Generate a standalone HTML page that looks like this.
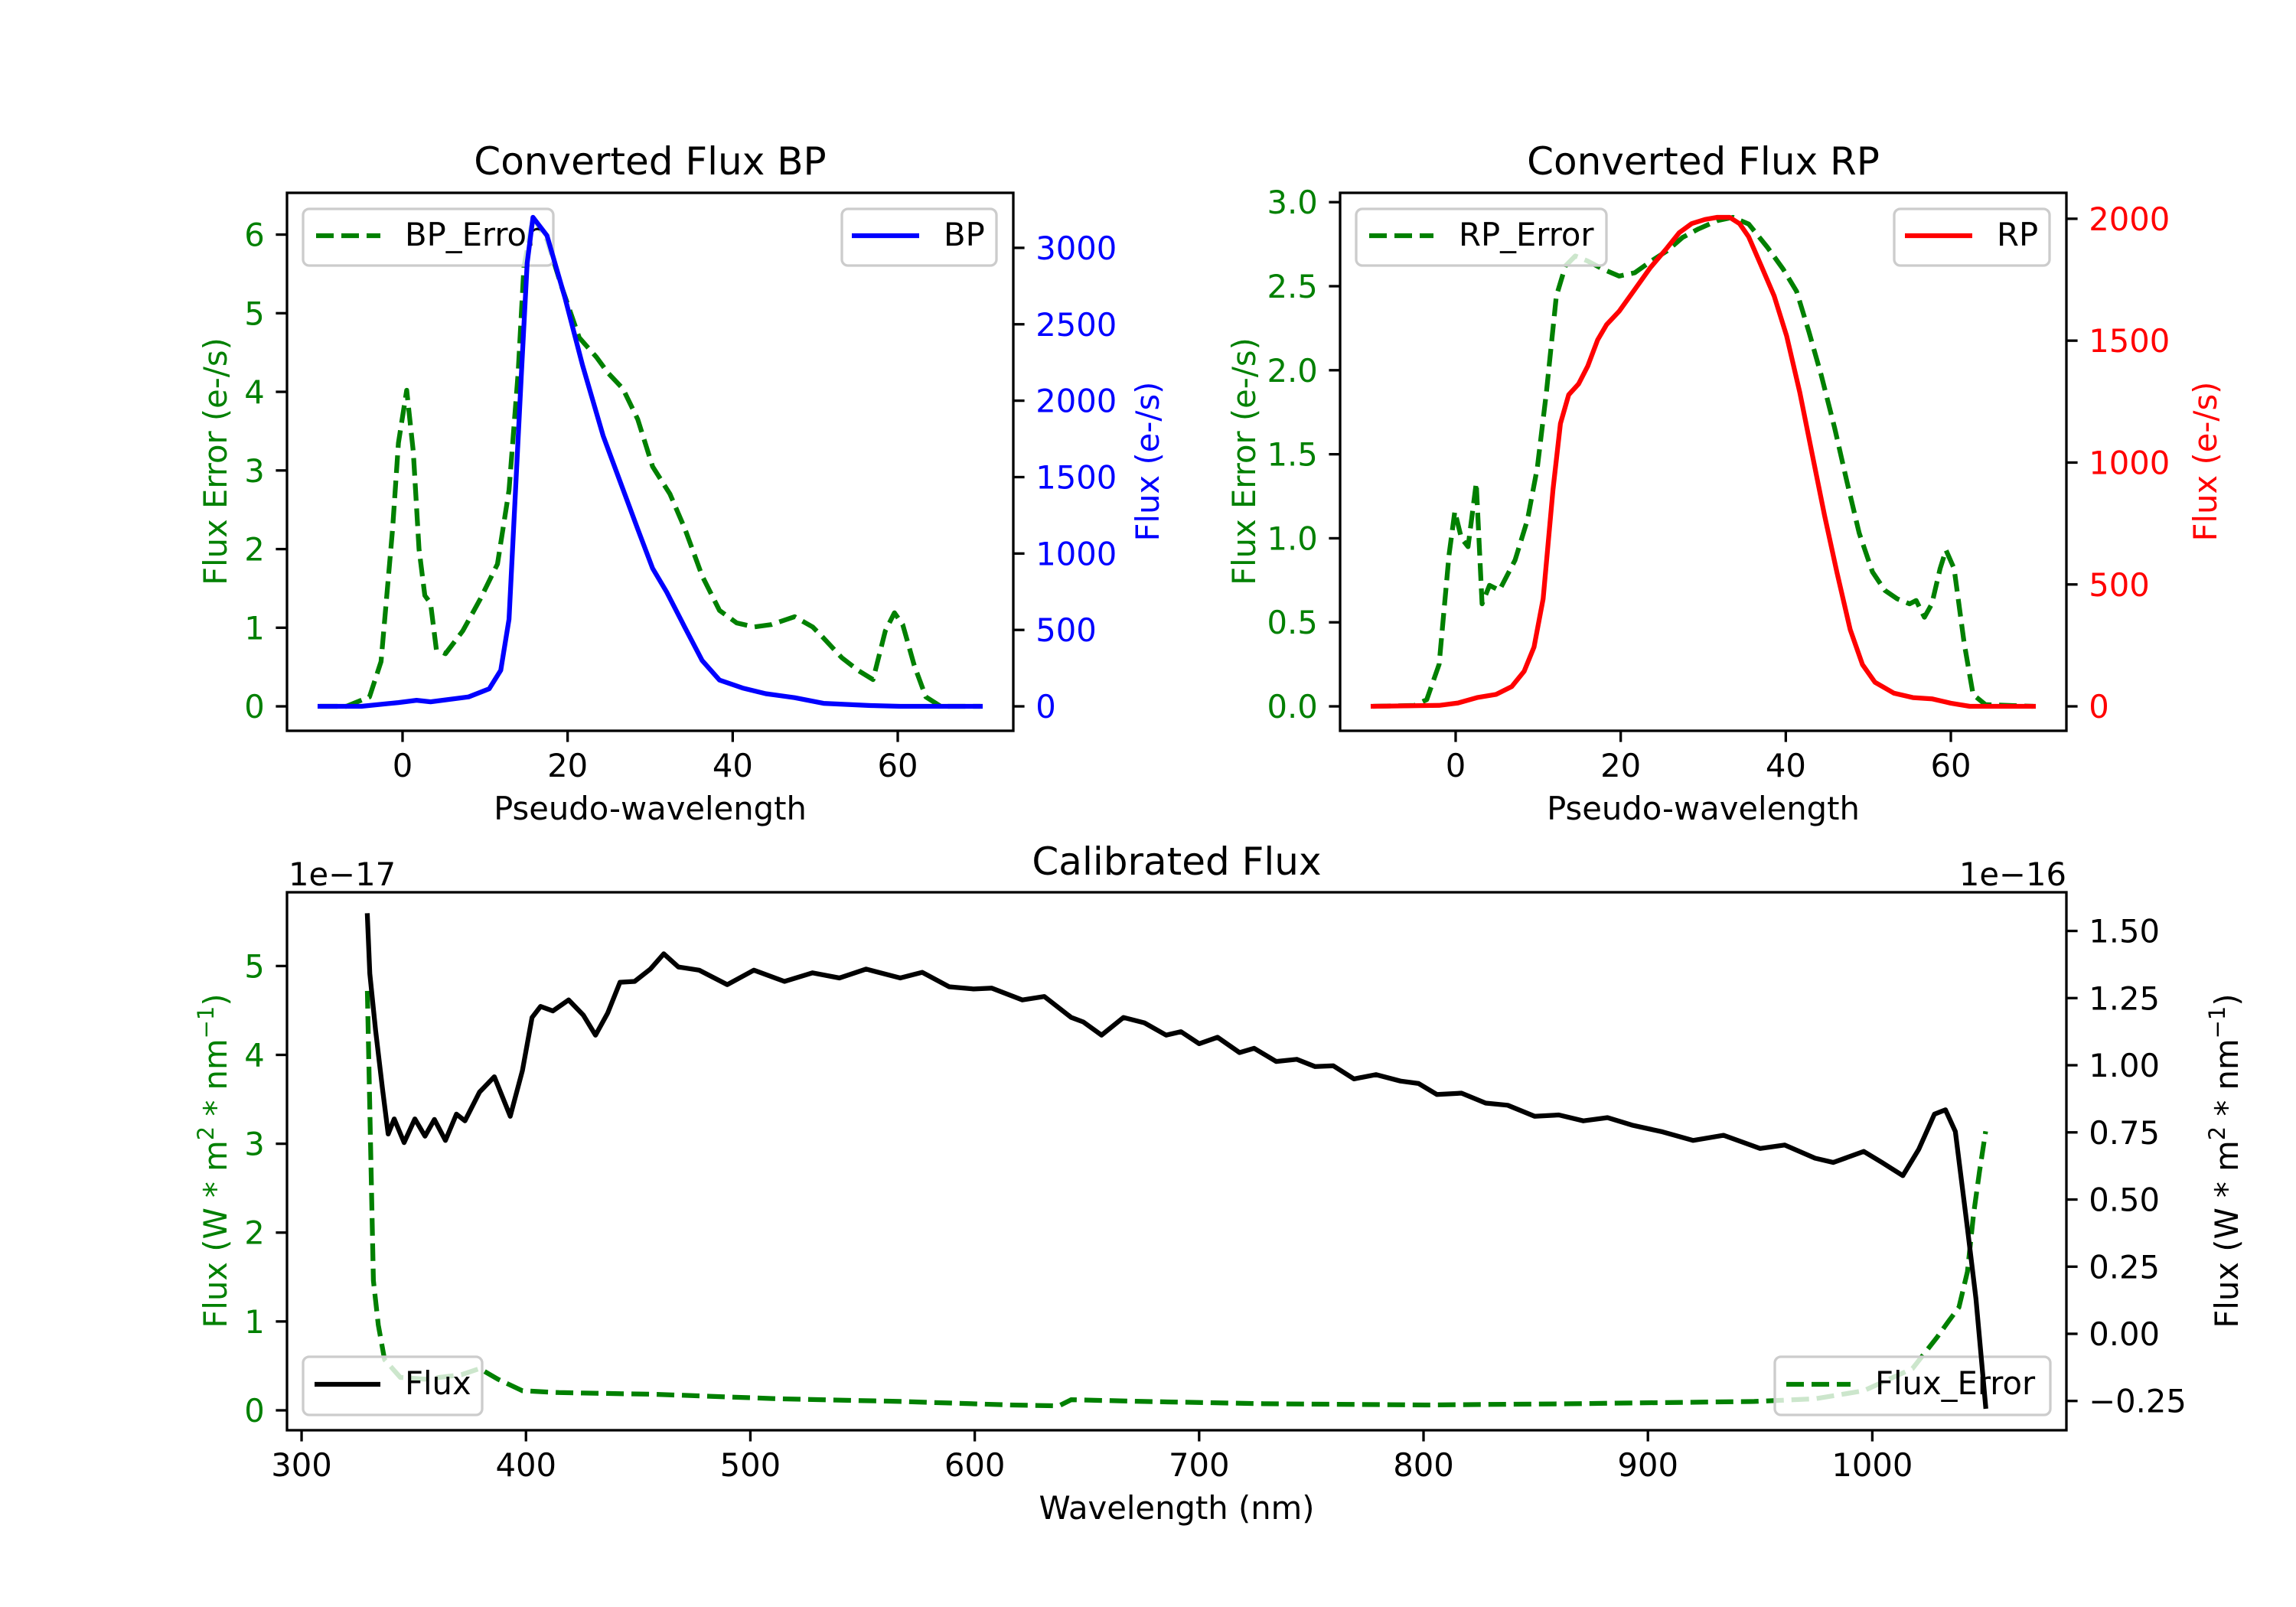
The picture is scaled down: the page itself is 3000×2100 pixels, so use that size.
<!DOCTYPE html>
<html><head><meta charset="utf-8"><style>
html,body{margin:0;padding:0;background:#fff;}
svg{display:block;font-family:"DejaVu Sans","Liberation Sans",sans-serif;}
</style></head><body>
<svg id="fig" width="3000" height="2100" viewBox="0 0 3000 2100"></svg>
<script>
// ---- BP panel data ----
const bpX = [-10,-5,-0.5,1.7,3.4,8,10.5,11.9,12.9,14.4,15.1,15.8,17.5,19.7,21.8,24.3,26.4,28.5,30.3,32,34.2,36.3,38.4,41.2,44,47.5,51,56.7,60.3,70];
const bpFlux = [0,0,25,40,30,62,115,236,570,2180,2900,3200,3080,2670,2233,1771,1465,1160,903,748,517,300,172,120,83,57,20,5,0,0];
const bpErrX = [-10,-6.8,-4,-2.6,-1.2,-0.5,0.5,1.3,2.0,2.7,3.4,4.1,5.2,7.3,9.4,11.5,12.9,14,14.7,15.8,17.5,19.3,21.4,23.5,24.9,26.7,28.5,30.3,32.4,34.2,36.3,38.4,40.5,42.6,44.7,47.5,49.7,51,53.2,55.3,57,58.5,59.6,60.6,62,63.4,65.2,70];
const bpErr = [0,0,0.12,0.57,2.26,3.35,4.02,3.24,2.0,1.41,1.31,0.72,0.67,0.96,1.36,1.81,2.75,4.24,5.58,6.22,5.93,5.33,4.69,4.44,4.24,4.04,3.65,3.05,2.7,2.26,1.66,1.22,1.06,1.01,1.04,1.14,1.01,0.87,0.62,0.45,0.34,0.96,1.19,1.04,0.52,0.12,0,0];
// ---- RP panel data ----
const rpX = [-10,-2,0.3,2.6,4.9,6.8,8.3,9.5,10.6,11.8,12.7,13.7,14.9,16,17.2,18.3,19.8,21.7,23.6,25.6,27.1,28.6,30.2,31.7,33.2,34.4,35.5,37,38.6,40.1,41.7,43.2,44.7,46.2,47.8,49.3,50.8,53.1,55.4,57.7,60,62.3,70];
const rpFlux = [0,4,14,36,49,81,144,243,441,890,1160,1278,1323,1395,1503,1566,1620,1710,1800,1880,1943,1980,1997,2006,2006,1980,1926,1809,1683,1520,1287,1035,783,549,315,171,99,54,36,31,13,0,0];
const rpErrX = [-10,-5,-3.5,-2,-0.8,-0.1,0.7,1.5,2.5,3.2,4.1,5.3,7.2,8.7,9.9,11,12.2,13.3,14.5,16,17.9,19.8,21.7,23.7,25.6,27.5,29.4,31.7,33.6,35.5,37.8,39.7,41.3,42.8,44.3,45.9,47.4,48.9,50.5,52,53.5,55,55.8,56.8,57.7,58.7,59.4,60.4,61.6,62.7,64.2,70];
const rpErr = [0,0.005,0.04,0.25,0.9,1.16,1.0,0.95,1.33,0.61,0.72,0.69,0.87,1.11,1.42,1.87,2.44,2.62,2.68,2.65,2.6,2.56,2.58,2.65,2.71,2.79,2.84,2.89,2.91,2.87,2.73,2.6,2.47,2.23,1.97,1.66,1.34,1.03,0.80,0.69,0.64,0.61,0.63,0.53,0.61,0.82,0.93,0.82,0.38,0.07,0.01,0];
// ---- Calibrated panel data ----
const calWl = [329.3,330.4,333,336,338.6,341.3,345.7,350.5,355,359.2,364.1,369,372.8,379.3,385.9,393,398.4,402.7,406.5,412,419,425.6,431,436.4,441.9,448.4,455.4,461.4,467.9,477.2,489.7,501.6,515.2,527.7,539.7,551.6,566.8,576.6,588.6,599.5,607.6,621.2,631,643,648.4,656.5,666.3,675.6,685.3,691.9,700,708.2,718,724.5,734.3,743.5,751.7,759.8,769,778.8,789.7,797.8,806,816.9,827.7,837.5,849.5,860.3,871.2,882,892.9,906.5,920.1,933.7,950,960.9,974.5,982.6,996.2,1004.3,1013.6,1020.7,1027.7,1032.6,1037,1042.4,1046.2,1050.5];
const calFlux = [1.557,1.341,1.129,0.916,0.744,0.80,0.712,0.80,0.736,0.798,0.72,0.818,0.793,0.90,0.957,0.81,0.98,1.178,1.219,1.202,1.243,1.186,1.112,1.194,1.309,1.312,1.358,1.415,1.366,1.354,1.30,1.354,1.312,1.344,1.325,1.358,1.325,1.346,1.292,1.284,1.287,1.243,1.256,1.178,1.161,1.112,1.178,1.158,1.112,1.125,1.08,1.104,1.047,1.063,1.014,1.022,0.995,0.998,0.949,0.965,0.941,0.932,0.891,0.896,0.859,0.851,0.81,0.815,0.793,0.805,0.777,0.752,0.72,0.739,0.69,0.703,0.654,0.638,0.679,0.638,0.589,0.687,0.818,0.834,0.753,0.393,0.131,-0.27];
const calErrWl = [329.3,331,332,334.2,337,344,354.9,371.2,379.3,387.5,398.4,414.7,458.2,512.5,566.9,615.8,637.5,643,675.6,729.9,800.6,865.8,947.3,974.5,996.2,1017.9,1028.8,1034.2,1038.6,1042.4,1045.1,1047.8,1050.5];
const calErr = [4.72,2.69,1.46,0.96,0.57,0.37,0.35,0.40,0.47,0.35,0.22,0.20,0.18,0.13,0.10,0.06,0.05,0.12,0.10,0.074,0.06,0.074,0.10,0.13,0.22,0.47,0.82,1.01,1.16,1.56,2.20,2.69,3.14];
// ---- ticks ----
const pwTicks = [0,20,40,60];
const bpErrTicks = [0,1,2,3,4,5,6];
const bpFluxTicks = [0,500,1000,1500,2000,2500,3000];
const rpErrTicks = [0,0.5,1,1.5,2,2.5,3];
const rpFluxTicks = [0,500,1000,1500,2000];
const wlTicks = [300,400,500,600,700,800,900,1000];
const calErrTicks = [0,1,2,3,4,5];
const calFluxTicks = [-0.25,0,0.25,0.5,0.75,1,1.25,1.5];

const NS='http://www.w3.org/2000/svg';
const svg=document.getElementById('fig');
const FS=41.7, TL=14.6, SW=3.3, LW=6.25;
function mk(tag,attrs,parent){const e=document.createElementNS(NS,tag);for(const k in attrs)e.setAttribute(k,attrs[k]);(parent||svg).appendChild(e);return e;}
function scale(d0,d1,r0,r1){return v=>r0+(v-d0)*(r1-r0)/(d1-d0);}
function fmtMinus(s){return s.replace('-','\u2212');}

function line(xs,ys,sx,sy,color,dashed,name){
  let d='';for(let i=0;i<xs.length;i++){d+=(i?'L':'M')+sx(xs[i]).toFixed(1)+','+sy(ys[i]).toFixed(1);}
  const p=mk('path',{d:d,fill:'none',stroke:color,'stroke-width':LW,'stroke-linejoin':'round','stroke-linecap':dashed?'butt':'square'});
  if(dashed)p.setAttribute('stroke-dasharray','23,10');
  
  
}
function xTicks(ticks,sx,y1,fmt){
  ticks.forEach(t=>{const x=sx(t);
    const l=mk('line',{x1:x,x2:x,y1:y1,y2:y1+TL,stroke:'#000','stroke-width':SW});
    
    
    const tx=mk('text',{x:x,y:y1+TL+14.6+31,'font-size':FS,'text-anchor':'middle',fill:'#000'});
    tx.textContent=fmt?fmt(t):String(t);
    
    
  });
}
function yTicks(ticks,sy,xEdge,side,color,fmt){
  ticks.forEach(t=>{const y=sy(t);
    const dx=side==='left'?-TL:TL;
    const l=mk('line',{x1:xEdge,x2:xEdge+dx,y1:y,y2:y,stroke:'#000','stroke-width':SW});
    
    
    const tx=mk('text',{x:side==='left'?xEdge-TL-14.6:xEdge+TL+14.6,y:y+15,'font-size':FS,'text-anchor':side==='left'?'end':'start',fill:color});
    tx.textContent=fmtMinus(fmt?fmt(t):String(t));
    
    
  });
}
function frame(x0,y0,x1,y1,name){
  const r=mk('rect',{x:x0,y:y0,width:x1-x0,height:y1-y0,fill:'none',stroke:'#000','stroke-width':SW});
  
  
}
function text(x,y,s,opts,name){
  const t=mk('text',Object.assign({x:x,y:y,'font-size':FS,fill:'#000'},opts||{}));
  t.textContent=s;
  
  
  return t;
}
function legend(x0,y0,x1,y1,color,dashed,label,lx0,lx1,tx,name){
  const g=mk('g',{});
  
  
  const r=mk('rect',{x:x0,y:y0,width:x1-x0,height:y1-y0,rx:8,fill:'#fff','fill-opacity':0.8,stroke:'#cccccc','stroke-width':SW},g);
  
  
  const cy=(y0+y1)/2-2;
  const l=mk('line',{x1:lx0,x2:lx1,y1:cy,y2:cy,stroke:color,'stroke-width':LW},g);
  if(dashed)l.setAttribute('stroke-dasharray','23,10');
  
  
  const t=mk('text',{x:tx,y:cy+13,'font-size':FS,fill:'#000'},g);
  t.textContent=label;
  
  
}

// ===== Panel 1: BP =====
(function(){
  const x0=375,x1=1324,y0=252,y1=955;
  const sx=scale(-14,74,x0,x1), syL=scale(-0.311,6.531,y1,y0), syR=scale(-160,3360,y1,y0);
  line(bpErrX,bpErr,sx,syL,'#008000',true,'bp-error-line');
  legend(396,273,723,347,'#008000',true,'BP_Error',413,497,529,'bp-error-legend');
  line(bpX,bpFlux,sx,syR,'#0000ff',false,'bp-flux-line');
  legend(1100,273,1302,347,'#0000ff',false,'BP',1113,1201,1233,'bp-legend');
  frame(x0,y0,x1,y1,'bp-axes-frame');
  xTicks(pwTicks,sx,y1);
  yTicks(bpErrTicks,syL,x0,'left','#008000');
  yTicks(bpFluxTicks,syR,x1,'right','#0000ff');
  text((x0+x1)/2,228,'Converted Flux BP',{'font-size':50,'text-anchor':'middle'},'bp-title');
  text((x0+x1)/2,1071,'Pseudo-wavelength',{'text-anchor':'middle'},'bp-x-axis-title');
  text(0,0,'Flux Error (e-/s)',{'text-anchor':'middle',fill:'#008000',transform:'translate(296,603) rotate(-90)'},'bp-left-y-axis-title');
  text(0,0,'Flux (e-/s)',{'text-anchor':'middle',fill:'#0000ff',transform:'translate(1514,603) rotate(-90)'},'bp-right-y-axis-title');
})();

// ===== Panel 2: RP =====
(function(){
  const x0=1751,x1=2700,y0=252,y1=955;
  const sx=scale(-14,74,x0,x1), syL=scale(-0.1455,3.0555,y1,y0), syR=scale(-100.3,2106.3,y1,y0);
  line(rpErrX,rpErr,sx,syL,'#008000',true,'rp-error-line');
  legend(1772,273,2099,347,'#008000',true,'RP_Error',1789,1873,1906,'rp-error-legend');
  line(rpX,rpFlux,sx,syR,'#ff0000',false,'rp-flux-line');
  legend(2475,273,2678,347,'#ff0000',false,'RP',2489,2577,2609,'rp-legend');
  frame(x0,y0,x1,y1,'rp-axes-frame');
  xTicks(pwTicks,sx,y1);
  yTicks(rpErrTicks,syL,x0,'left','#008000',v=>v.toFixed(1));
  yTicks(rpFluxTicks,syR,x1,'right','#ff0000');
  text((x0+x1)/2,228,'Converted Flux RP',{'font-size':50,'text-anchor':'middle'},'rp-title');
  text((x0+x1)/2,1071,'Pseudo-wavelength',{'text-anchor':'middle'},'rp-x-axis-title');
  text(0,0,'Flux Error (e-/s)',{'text-anchor':'middle',fill:'#008000',transform:'translate(1640,603) rotate(-90)'},'rp-left-y-axis-title');
  text(0,0,'Flux (e-/s)',{'text-anchor':'middle',fill:'#ff0000',transform:'translate(2896,603) rotate(-90)'},'rp-right-y-axis-title');
})();

// ===== Panel 3: Calibrated =====
(function(){
  const x0=375,x1=2700,y0=1166,y1=1869;
  const sx=scale(293.5,1086.5,x0,x1), syL=scale(-0.224,5.83,y1,y0), syR=scale(-0.359,1.644,y1,y0);
  line(calErrWl,calErr,sx,syL,'#008000',true,'flux-error-line');
  legend(396,1773,630,1849,'#000000',false,'Flux',411,497,529,'flux-legend');
  legend(2319,1773,2679,1849,'#008000',true,'Flux_Error',2334,2418,2450,'flux-error-legend');
  line(calWl,calFlux,sx,syR,'#000000',false,'flux-line');
  frame(x0,y0,x1,y1,'calibrated-axes-frame');
  xTicks(wlTicks,sx,y1);
  yTicks(calErrTicks,syL,x0,'left','#008000');
  yTicks(calFluxTicks,syR,x1,'right','#000000',v=>v.toFixed(2));
  text((x0+x1)/2,1143,'Calibrated Flux',{'font-size':50,'text-anchor':'middle'},'calibrated-title');
  text((x0+x1)/2,1985,'Wavelength (nm)',{'text-anchor':'middle'},'calibrated-x-axis-title');
  text(377,1157,'1e\u221217',{},'left-offset-text');
  text(2700,1157,'1e\u221216',{'text-anchor':'end'},'right-offset-text');
  const tl=text(0,0,'',{'text-anchor':'middle',fill:'#008000',transform:'translate(296,1517) rotate(-90)'},'calibrated-left-y-axis-title');
  [['Flux (W * m',0],['2',1],[' * nm',0],['\u22121',1],[')',0]].forEach(p=>{const s=mk('tspan',{},tl);s.textContent=p[0];if(p[1]){s.setAttribute('font-size',29);s.setAttribute('dy',-17);}else if(s.previousSibling&&s.previousSibling.getAttribute('font-size')){s.setAttribute('dy',17);}});
  const tr=text(0,0,'',{'text-anchor':'middle',fill:'#000',transform:'translate(2924,1517) rotate(-90)'},'calibrated-right-y-axis-title');
  [['Flux (W * m',0],['2',1],[' * nm',0],['\u22121',1],[')',0]].forEach(p=>{const s=mk('tspan',{},tr);s.textContent=p[0];if(p[1]){s.setAttribute('font-size',29);s.setAttribute('dy',-17);}else if(s.previousSibling&&s.previousSibling.getAttribute('font-size')){s.setAttribute('dy',17);}});
})();
</script>
</body></html>
